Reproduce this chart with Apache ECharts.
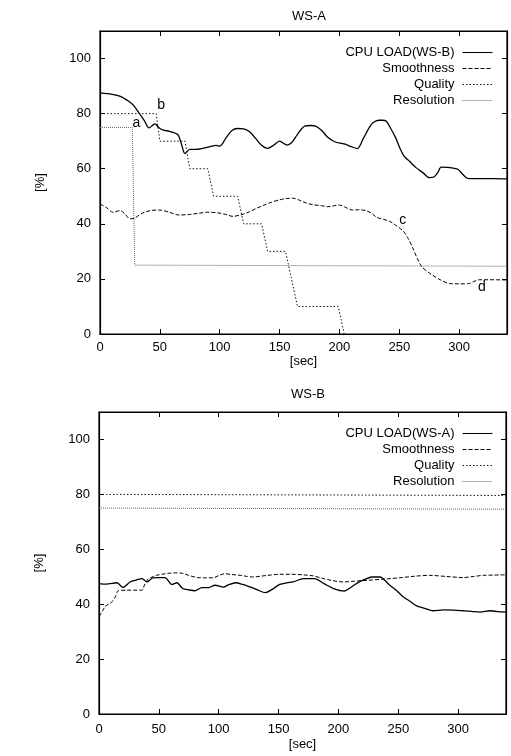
<!DOCTYPE html>
<html>
<head>
<meta charset="utf-8">
<script src="https://cdn.jsdelivr.net/npm/echarts@6/dist/echarts.min.js"></script>
<style>
  html, body { margin: 0; padding: 0; background: #fff; }
  #main { width: 511px; height: 756px; }
</style>
</head>
<body>
<div id="main"></div>
<script>
// ---- WS-A panel ----
var cpuA_sec = [0, 10, 17, 24, 28, 33, 37, 41, 44, 46, 49, 53, 58, 65, 68, 71, 75, 80, 86, 92, 97, 100, 105, 110, 115, 120, 125, 130, 135, 140, 145, 150, 156, 160, 165, 171, 176, 180, 185, 190, 196, 204, 210, 215, 220, 225, 228, 233, 236, 239, 243, 247, 251, 254, 259, 264, 270, 275, 279, 282, 285, 290, 295, 299, 303, 307, 311, 320, 330, 340];
var cpuA_val = [87.5, 87, 86.3, 84.5, 83, 80, 77.5, 74.8, 75.8, 76.3, 75, 74, 73.6, 72.4, 69, 65.5, 67, 67, 67.4, 68, 68.5, 68.2, 71, 73.8, 74.6, 74.5, 73.4, 71, 68.5, 67.4, 68.5, 70, 68.6, 69.4, 72.5, 75.5, 75.7, 75.5, 74, 71.5, 69.8, 69, 68, 67.3, 71, 75, 76.7, 77.6, 77.6, 77.3, 74.5, 71.2, 67, 64.6, 62.5, 60.4, 58.5, 56.8, 57, 58.5, 60.6, 60.5, 60.2, 59.8, 58, 56.5, 56.4, 56.4, 56.4, 56.3];

var smoothA_sec = [0, 5, 11, 17, 21, 25, 29, 35, 42, 50, 58, 66, 75, 82, 90, 98, 105, 111, 118, 125, 130, 136, 143, 150, 156, 161, 166, 172, 178, 185, 190, 196, 200, 205, 211, 216, 222, 227, 231, 237, 242, 247, 253, 257, 261, 265, 269, 274, 278, 285, 292, 300, 308, 312, 317, 325, 340];
var smoothA_val = [47.2, 46, 44.2, 44.8, 43.5, 41.8, 42.1, 43.8, 44.8, 45, 44.2, 43.2, 43.4, 43.8, 44.2, 44, 43.4, 42.7, 43.3, 44.4, 45.5, 46.6, 47.8, 48.7, 49.2, 49.3, 48.7, 47.6, 46.9, 46.6, 46.2, 46.6, 46.8, 46, 45, 45.1, 44.8, 43.8, 42.4, 41.6, 40.9, 39.5, 37.5, 35, 31.5, 27.5, 24.3, 22.5, 21.3, 19.5, 18.3, 18.2, 18.3, 19, 19.7, 19.7, 19.6];

var qualityA_sec = [0, 47, 50, 71, 75, 90, 95, 115, 120, 135, 140, 155, 165, 199, 204];
var qualityA_val = [80, 80, 70, 70, 60, 60, 50, 50, 40, 40, 30, 30, 10, 10, 0];

var resA_sec = [0, 27, 29, 340];
var resA_val = [75, 75, 25, 24.6];

// annotation letters: [sec, value, text]
var notesQualityA = [[30.5, 76.5, 'a'], [51, 83, 'b']];
var notesSmoothA = [[253, 41.5, 'c'], [319, 17, 'd']];

// ---- WS-B panel ----
var cpuB_sec = [0, 6, 15, 20, 26, 31, 36, 40, 45, 50, 55, 61, 65, 70, 75, 80, 86, 91, 97, 104, 108, 114, 120, 126, 132, 139, 145, 151, 157, 162, 171, 180, 188, 196, 205, 210, 215, 222, 228, 235, 239, 243, 249, 254, 260, 265, 272, 279, 288, 296, 304, 311, 318, 327, 333, 340];
var cpuB_val = [47.5, 47.3, 47.8, 46.1, 48.1, 48.8, 49.3, 48.1, 49.6, 49.7, 49.7, 47.2, 47.8, 45.7, 45.2, 44.9, 46, 46, 46.9, 46.2, 47, 47.8, 47.2, 46.3, 45.3, 44.2, 45.5, 47.2, 47.8, 48.1, 49.3, 49.3, 47.5, 45.7, 44.8, 46, 47.5, 49, 49.9, 49.9, 48.6, 46.9, 44.8, 42.7, 41, 39.5, 38.5, 37.6, 37.9, 37.8, 37.6, 37.4, 37.1, 37.6, 37.3, 37.1];

var smoothB_sec = [0, 3, 5, 8, 11, 14, 16, 23, 30, 36, 38, 40, 44, 48, 54, 59, 64, 69, 75, 82, 88, 95, 100, 105, 111, 118, 124, 129, 135, 141, 151, 160, 170, 179, 186, 195, 204, 214, 224, 237, 251, 264, 276, 290, 304, 313, 321, 330, 340];
var smoothB_val = [35.5, 37.5, 39.1, 40, 40.9, 43, 44.9, 45.1, 45.1, 45.1, 47, 48.7, 49.8, 50.5, 51, 51.3, 51.4, 51.3, 50.5, 49.7, 49.6, 49.6, 50.4, 51.1, 50.8, 50.5, 50.1, 49.9, 50.2, 50.5, 50.9, 50.9, 50.7, 50.3, 49.5, 48.6, 48.1, 48.4, 48.7, 49.1, 49.6, 50.2, 50.5, 50.1, 49.7, 50.1, 50.5, 50.6, 50.7];

var qualityB_sec = [0, 340];
var qualityB_val = [80, 79.6];

var resB_sec = [0, 340];
var resB_val = [75, 74.6];

var xTicks = { min: 0, max: 340, interval: 50 };
var yTicks = { min: 0, max: 110, interval: 20 };

var FONT = 'Liberation Sans';

function pairs(xs, ys) {
  var out = [];
  for (var i = 0; i < xs.length; i++) out.push([xs[i], ys[i]]);
  return out;
}

function notes(list) {
  return list.map(function (n) { return { name: n[2], coord: [n[0], n[1]] }; });
}

function axisBase(extra) {
  var a = {
    type: 'value',
    axisLine: { show: true, onZero: false, lineStyle: { color: '#000', width: 1.2 } },
    axisTick: { show: true, inside: true, length: 5, lineStyle: { color: '#000', width: 1 } },
    splitLine: { show: false },
    axisLabel: { color: '#000', fontFamily: FONT, fontSize: 13, showMaxLabel: false }
  };
  for (var k in extra) a[k] = extra[k];
  return a;
}

function xAxes(grid, labelMargin, nameGap) {
  return [
    axisBase({ gridIndex: grid, position: 'bottom', min: xTicks.min, max: xTicks.max, interval: xTicks.interval,
      name: '[sec]', nameLocation: 'middle', nameGap: nameGap,
      nameTextStyle: { color: '#000', fontFamily: FONT, fontSize: 13 },
      axisLabel: { color: '#000', fontFamily: FONT, fontSize: 13, margin: labelMargin, showMaxLabel: false } }),
    axisBase({ gridIndex: grid, position: 'top', min: xTicks.min, max: xTicks.max, interval: xTicks.interval,
      axisLabel: { show: false } })
  ];
}

function yAxes(grid) {
  return [
    axisBase({ gridIndex: grid, position: 'left', min: yTicks.min, max: yTicks.max, interval: yTicks.interval,
      name: '[%]', nameLocation: 'middle', nameGap: 53,
      nameTextStyle: { color: '#000', fontFamily: FONT, fontSize: 13 },
      axisLabel: { color: '#000', fontFamily: FONT, fontSize: 13, margin: 9, showMaxLabel: false } }),
    axisBase({ gridIndex: grid, position: 'right', min: yTicks.min, max: yTicks.max, interval: yTicks.interval,
      axisLabel: { show: false } })
  ];
}

var noteLabel = { show: true, position: 'inside', formatter: '{b}', color: '#000', fontFamily: FONT, fontSize: 14 };

function line(name, xi, yi, data, style, smooth, marks) {
  var s = {
    name: name, type: 'line', xAxisIndex: xi, yAxisIndex: yi,
    data: data, symbol: 'none', smooth: smooth, silent: true,
    color: style.color,
    lineStyle: style
  };
  if (marks) {
    s.markPoint = { symbol: 'circle', symbolSize: 0, label: noteLabel, data: marks };
  }
  return s;
}

var solid = { color: '#000', width: 1.3, type: 'solid' };
var dashed = { color: '#000', width: 1, type: [4, 2] };
var dotted = { color: '#111', width: 1, type: [1.5, 2] };
var resStyle = { color: '#666', width: 1, type: [1, 1] };

var legendBase = {
  orient: 'vertical', right: 18, align: 'right', padding: 0,
  itemWidth: 30, itemHeight: 14, itemGap: 3,
  itemStyle: { color: 'rgba(0,0,0,0)', borderWidth: 0, opacity: 0 },
  lineStyle: { width: 1 },
  textStyle: { color: '#000', fontFamily: FONT, fontSize: 13, padding: [0, 3, 0, 0] },
  selectedMode: false
};

function legendAt(top, names) {
  var l = {};
  for (var k in legendBase) l[k] = legendBase[k];
  l.top = top;
  l.data = names;
  return l;
}

var gridBox = { show: true, borderColor: '#000', borderWidth: 1.2, backgroundColor: 'transparent' };

var option = {
  animation: false,
  backgroundColor: '#fff',
  title: [
    { text: 'WS-A', left: 304, top: 5, textAlign: 'center',
      textStyle: { color: '#000', fontFamily: FONT, fontSize: 13, fontWeight: 'normal' } },
    { text: 'WS-B', left: 303, top: 383, textAlign: 'center',
      textStyle: { color: '#000', fontFamily: FONT, fontSize: 13, fontWeight: 'normal' } }
  ],
  legend: [
    legendAt(46, ['CPU LOAD(WS-B)', 'Smoothness', 'Quality', 'Resolution']),
    legendAt(427, ['CPU LOAD(WS-A)', 'Smoothness', 'Quality', 'Resolution'])
  ],
  grid: [
    Object.assign({ left: 100, top: 31, width: 407, height: 303 }, gridBox),
    Object.assign({ left: 99, top: 412, width: 407, height: 302 }, gridBox)
  ],
  xAxis: xAxes(0, 7, 21).concat(xAxes(1, 9, 24)),
  yAxis: yAxes(0).concat(yAxes(1)),
  series: [
    line('CPU LOAD(WS-B)', 0, 0, pairs(cpuA_sec, cpuA_val), solid, 0.3, null),
    line('Smoothness', 0, 0, pairs(smoothA_sec, smoothA_val), dashed, 0.3, notes(notesSmoothA)),
    line('Quality', 0, 0, pairs(qualityA_sec, qualityA_val), dotted, false, notes(notesQualityA)),
    line('Resolution', 0, 0, pairs(resA_sec, resA_val), resStyle, false, null),

    line('CPU LOAD(WS-A)', 2, 2, pairs(cpuB_sec, cpuB_val), solid, 0.3, null),
    line('Smoothness', 2, 2, pairs(smoothB_sec, smoothB_val), dashed, 0.3, null),
    line('Quality', 2, 2, pairs(qualityB_sec, qualityB_val), dotted, false, null),
    line('Resolution', 2, 2, pairs(resB_sec, resB_val), resStyle, false, null)
  ]
};

var myChart = echarts.init(document.getElementById('main'));
myChart.setOption(option, true);
</script>
</body>
</html>
